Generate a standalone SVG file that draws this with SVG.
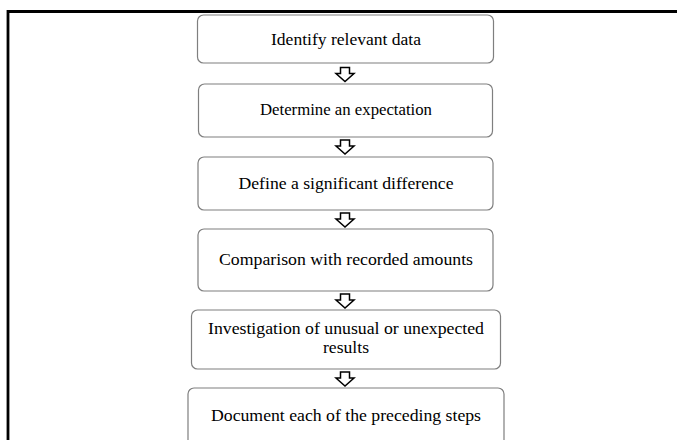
<svg xmlns="http://www.w3.org/2000/svg" width="677" height="440" viewBox="0 0 677 440">
<defs>
<style>
.box{fill:#fff;stroke:#7f7f7f;stroke-width:1.2}
.t{font-family:"Liberation Serif","Times New Roman",serif;font-size:16px;fill:#000;text-anchor:middle}
.ar{fill:#fff;stroke:#000;stroke-width:1.5;stroke-linejoin:miter}
</style>
<path id="arrow" class="ar" d="M-4.5,0 H4.5 V6 H9 L0,14 L-9,6 H-4.5 Z"/>
</defs>
<rect x="0" y="0" width="677" height="440" fill="#fff"/>
<path d="M8,450 V11.5 H690" fill="none" stroke="#000" stroke-width="2.8"/>
<g id="connectors">
<use href="#arrow" x="345" y="67.5"/>
<use href="#arrow" x="345" y="140"/>
<use href="#arrow" x="345" y="213"/>
<use href="#arrow" x="345" y="294"/>
<use href="#arrow" x="345" y="372"/>
</g>
<g id="n1"><rect class="box" x="197.5" y="15" width="296" height="48" rx="6"/><text class="t" x="346" y="45" textLength="150" lengthAdjust="spacingAndGlyphs">Identify relevant data</text></g>
<g id="n2"><rect class="box" x="198.5" y="84" width="294" height="53" rx="6"/><text class="t" x="346" y="115" textLength="172" lengthAdjust="spacingAndGlyphs">Determine an expectation</text></g>
<g id="n3"><rect class="box" x="198" y="157" width="295" height="53" rx="6"/><text class="t" x="346" y="189" textLength="215" lengthAdjust="spacingAndGlyphs">Define a significant difference</text></g>
<g id="n4"><rect class="box" x="198" y="229" width="295" height="62" rx="6"/><text class="t" x="346" y="265" textLength="254" lengthAdjust="spacingAndGlyphs">Comparison with recorded amounts</text></g>
<g id="n5"><rect class="box" x="191.5" y="310" width="309" height="59" rx="6"/><text class="t" x="346" y="334" textLength="276" lengthAdjust="spacingAndGlyphs">Investigation of unusual or unexpected</text><text class="t" x="346" y="353" textLength="46" lengthAdjust="spacingAndGlyphs">results</text></g>
<g id="n6"><rect class="box" x="188" y="388" width="316" height="62" rx="6"/><text class="t" x="346" y="421" textLength="270" lengthAdjust="spacingAndGlyphs">Document each of the preceding steps</text></g>
</svg>
